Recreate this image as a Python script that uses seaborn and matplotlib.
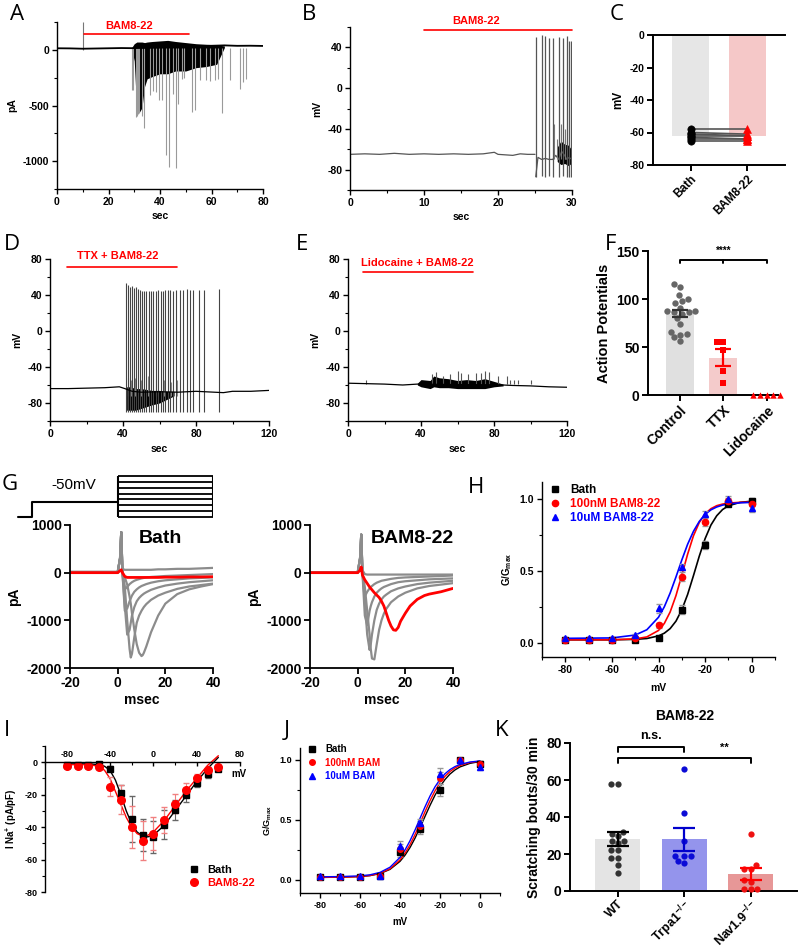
import numpy as np
import pandas as pd
import seaborn as sns
import matplotlib.pyplot as plt
from matplotlib.lines import Line2D
from matplotlib.ticker import MultipleLocator, FormatStrFormatter

# ---------------- data ----------------
# A: voltage clamp trace (pA vs sec)
a_base_t = [0, 5, 10, 15, 20, 25, 29, 65, 70, 75, 80]
a_base_v = [14, 13, 10, 12, 14, 16, 15, 40, 36, 37, 35]
a_env_t = [29, 30, 31, 32, 33, 34, 35, 37, 40, 43, 46, 50, 54, 58, 62, 65]
a_env_lo = [10, -100, -560, -560, -520, -330, -260, -240, -215, -215, -190, -190, -160, -150, -130, 20]
a_env_hi = [20, 55, 70, 70, 70, 65, 70, 75, 80, 85, 75, 65, 55, 50, 45, 35]
a_spk_t = [29.0, 29.5, 30.5, 31.0, 31.5, 32.0, 33.0, 33.9, 36.2, 37.3, 38.6, 39.6, 40.6, 42.2, 43.5, 45.0,
           46.3, 47.1, 48.7, 49.2, 52.4, 53.7, 55.4, 58.0, 59.3, 61.2, 62.5, 64.2, 67.0, 71.2, 72.2, 73.5]
a_spk_v = [-360, -360, -600, -590, -580, -570, -590, -705, -405, -370, -380, -455, -455, -943, -1048, -400,
           -1063, -485, -260, -250, -557, -540, -275, -275, -280, -275, -260, -570, -270, -350, -290, -260]
a_mark_t = 10
a_drug_t = [10.4, 51.3]

# B: current clamp trace (mV vs sec)
b_base_t = [0, 2, 4, 6, 8, 10, 12, 14, 16, 18, 19.5, 20, 22, 23, 24, 25]
b_base_v = [-65, -64.5, -65, -64, -65, -64.5, -65, -64.5, -65, -64.5, -63, -65, -66, -64.5, -65, -65]
b_spk_t = [25.1, 25.9, 26.4, 26.9, 27.4, 28.2, 28.8, 29.3, 29.6, 29.9]
b_spk_peak = [50, 52, 51, 49, 49, 50, 49, 51, 46, 46]
b_spk_trough = [-87, -86, -87, -86, -87, -87, -86, -87, -87, -87]
b_sub_t = [27.6, 28.0, 28.5, 29.0, 29.1]
b_sub_peak = [-35, -50, -35, -40, -50]
b_isi_t = [25.1, 25.4, 25.9, 26.4, 26.9, 27.4, 27.8, 28.2, 28.6, 29.0, 29.3, 29.6, 30]
b_isi_v = [-87, -68, -70, -69, -70, -70, -66, -70, -62, -66, -70, -68, -70]
b_env_t = [28.0, 28.5, 29.0, 29.5, 29.9]
b_env_lo = [-72, -75, -74, -76, -74]
b_env_hi = [-58, -52, -55, -56, -60]
b_drug_t = [10, 30]

# C: resting membrane potential
c_bath = [-58, -60, -61, -62, -63, -64, -65]
c_bam = [-58, -61, -62, -62, -64, -64, -65]

# D: TTX + BAM8-22
d_base_t = [0, 10, 20, 30, 38, 41, 45, 50, 60, 70, 80, 90, 95, 100, 110, 120]
d_base_v = [-64, -64, -63.5, -63, -62, -64, -67, -68, -67.5, -68, -67, -68, -68.5, -67, -67, -66]
d_spk_t = [41.9, 42.9, 43.8, 45.1, 46.2, 47.2, 48.3, 49.2, 50.5, 51.6, 52.8, 54.1, 55.2, 56.5, 57.9, 59.2,
           60.7, 61.9, 63.2, 64.7, 65.9, 67.4, 68.9, 71.1, 72.9, 75.1, 76.6, 78.4, 81.5, 84.3, 92.5]
d_spk_peak = [53, 51, 49, 50, 48, 49, 47, 46, 45, 45, 44, 45, 44, 44, 45, 46,
              45, 45, 46, 46, 46, 45, 46, 46, 46, 47, 46, 46, 46, 46, 47]
d_trough = -90
d_sub_t = [43, 44.5, 46.8, 49.8, 53.5, 58, 62.5, 66.5, 69.5]
d_sub_v = [-52, -55, -52, -55, -50, -55, -55, -57, -55]
d_env_t = [42, 44, 47, 50, 53, 56, 60, 64, 68]
d_env_lo = [-88, -88, -88, -86, -84, -82, -80, -76, -72]
d_env_hi = [-62, -62, -64, -64, -65, -66, -66, -67, -67]
d_drug_t = [9.1, 69.7]

# E: Lidocaine + BAM8-22
e_base_t = [0, 10, 20, 30, 38, 85, 90, 100, 110, 120]
e_base_v = [-58, -58.5, -59, -60, -59, -60, -60.5, -61, -62, -62.5]
e_env_t = [38, 40, 45, 47, 50, 55, 60, 65, 70, 75, 80, 85]
e_env_lo = [-60, -62, -64, -62, -63, -63, -64, -64, -64, -64, -62, -61]
e_env_hi = [-58, -54, -55, -50, -52, -53, -55, -54, -55, -53, -56, -59]
e_spk_t = [10, 46, 48, 52, 56, 60, 62, 66, 70, 73, 75, 77, 82, 87, 89, 91, 93, 100]
e_spk_v = [-55, -48, -46, -50, -48, -44, -47, -48, -47, -47, -44, -46, -50, -50, -54, -55, -54, -55]
e_drug_t = [8, 68.7]

# F: action potential counts
f_order = ['Control', 'TTX', 'Lidocaine']
f_control = [116, 113, 104, 100, 98, 96, 91, 88, 87, 86, 86, 84, 80, 74, 66, 64, 63, 60, 56]
f_ttx = [55, 55, 47, 25, 13]
f_lido = [0, 0, 0, 0, 0]

# G: voltage protocol and Na currents
proto_t = [-42, -36, -36, 0]
proto_v = [-100, -100, -50, -50]
proto_steps = [-100, -80, -60, -40, -20, 0, 20, 40]
proto_test = [0, 40]
g_t = [-20, 0, 1, 1.5, 2, 3, 4, 5, 5.5, 6, 7, 8, 9, 10, 10.5, 11, 12, 14, 17, 20, 25, 30, 35, 40]
bath_gray = [
    [20, 20, 300, 850, 80, 60, 60, 60, 60, 60, 60, 60, 60, 60, 60, 60, 60, 60, 70, 70, 80, 80, 90, 100],
    [0, 0, 300, 850, 0, -350, -300, -240, -220, -200, -170, -150, -135, -120, -115, -110, -100, -90, -80, -70, -60, -50, -40, -30],
    [0, 0, 300, 850, 0, -800, -750, -600, -540, -480, -400, -350, -310, -280, -270, -260, -240, -210, -180, -160, -140, -120, -110, -100],
    [0, 0, 300, 850, 0, -700, -1300, -1200, -1050, -900, -720, -600, -530, -480, -460, -440, -410, -360, -310, -270, -230, -200, -180, -160],
    [0, 0, 300, 850, 0, -300, -1000, -1600, -1780, -1700, -1350, -1050, -900, -800, -760, -720, -660, -570, -480, -420, -340, -290, -260, -230],
    [0, 0, 300, 850, 0, -100, -250, -500, -650, -850, -1200, -1500, -1680, -1750, -1730, -1680, -1550, -1250, -900, -650, -450, -350, -290, -240],
]
bath_red = [0, 0, 40, 60, 0, -80, -100, -100, -100, -100, -100, -100, -100, -100, -100, -100, -100, -100, -100, -95, -95, -90, -90, -85]
bam_gray = [
    [0, 0, 300, 800, 50, -30, -40, -40, -40, -40, -40, -40, -40, -40, -40, -40, -40, -40, -40, -40, -40, -40, -40, -40],
    [0, 0, 300, 800, 0, -500, -400, -330, -300, -280, -240, -210, -190, -170, -165, -160, -150, -130, -110, -100, -90, -80, -70, -60],
    [0, 0, 300, 800, 0, -900, -1100, -800, -700, -620, -500, -420, -370, -330, -315, -300, -280, -240, -200, -180, -160, -140, -130, -120],
    [0, 0, 300, 800, 0, -600, -1300, -1620, -1500, -1300, -1000, -780, -650, -560, -530, -500, -460, -390, -330, -290, -240, -210, -190, -170],
    [0, 0, 300, 800, 0, -300, -800, -1300, -1600, -1800, -1820, -1500, -1200, -1000, -930, -860, -760, -620, -500, -420, -330, -280, -250, -220],
]
bam_red_t = [-20, 0, 1, 1.5, 2, 3, 5, 7, 9, 10, 11, 12, 13, 14, 15, 16, 17, 18, 20, 22, 25, 28, 30, 35, 40]
bam_red_v = [0, 0, 50, 120, -50, -150, -300, -420, -520, -600, -700, -850, -1000, -1120, -1200, -1210,
             -1150, -1020, -850, -700, -560, -480, -450, -400, -330]

# H: activation curves
act_v = [-80, -70, -60, -50, -40, -30, -20, -10, 0]
h_bath = [0.02, 0.02, 0.02, 0.02, 0.03, 0.23, 0.68, 0.97, 0.99]
h_100 = [0.02, 0.02, 0.02, 0.03, 0.12, 0.46, 0.84, 0.99, 0.97]
h_10 = [0.03, 0.03, 0.03, 0.05, 0.24, 0.53, 0.90, 1.00, 0.94]
h_bath_err = [0.01, 0.01, 0.01, 0.01, 0.01, 0.03, 0.03, 0.02, 0.02]
h_100_err = [0.01, 0.01, 0.01, 0.01, 0.02, 0.03, 0.03, 0.02, 0.02]
h_10_err = [0.01, 0.01, 0.01, 0.01, 0.03, 0.02, 0.02, 0.02, 0.03]
h_fit_x = [-80, -60, -50, -45, -40, -37.5, -35, -32.5, -30, -27.5, -25, -22.5, -20, -17.5, -15, -12.5, -10, -5, 0]
h_fit_bath = [0.02, 0.02, 0.023, 0.029, 0.047, 0.066, 0.098, 0.15, 0.229, 0.336, 0.467, 0.603, 0.725, 0.82, 0.885, 0.928, 0.954, 0.978, 0.986]
h_fit_100 = [0.02, 0.02, 0.026, 0.04, 0.085, 0.134, 0.214, 0.328, 0.47, 0.617, 0.745, 0.838, 0.898, 0.934, 0.955, 0.966, 0.973, 0.978, 0.98]
h_fit_10 = [0.03, 0.033, 0.053, 0.09, 0.177, 0.25, 0.346, 0.458, 0.576, 0.686, 0.776, 0.845, 0.894, 0.926, 0.946, 0.959, 0.967, 0.975, 0.978]

# I: I-V relation
iv_v = [-80, -70, -60, -50, -40, -30, -20, -10, 0, 10, 20, 30, 40, 50, 60]
iv_bath = [-2, -2, -2, -1, -4, -19, -35, -45, -46, -38.5, -29.5, -20.5, -12.5, -7.5, -4]
iv_bam = [-2.5, -2.5, -2.5, -3, -15, -23, -40, -48.5, -44, -35.5, -25.5, -17, -10, -5, -3]
iv_bath_err = [1, 1, 1, 1, 1.5, 5, 14, 10, 10, 9, 6, 4, 3, 2, 1.5]
iv_bam_err = [1, 1, 1, 1, 6, 9, 13, 12, 10, 8, 6, 4, 3, 2, 1]
iv_fit_x = [-80, -60, -50, -45, -40, -35, -30, -25, -20, -15, -10, -5, 0, 10, 20, 30, 40, 50, 60]
iv_fit_bath = [-1, -1, -1.5, -2.5, -5, -11, -20, -30, -38, -43, -45.5, -46, -45, -39, -30, -21, -12, -4, 3]
iv_fit_bam = [-1.5, -1.5, -2.5, -5, -10, -18, -26, -34, -40, -44, -45.5, -45, -43, -36, -27, -18, -10, -2, 4]

# J: activation curves (second set)
j_bath = [0.02, 0.02, 0.02, 0.03, 0.23, 0.42, 0.75, 1.00, 0.97]
j_100 = [0.02, 0.02, 0.02, 0.03, 0.26, 0.45, 0.85, 1.00, 0.97]
j_10 = [0.03, 0.03, 0.03, 0.03, 0.28, 0.47, 0.88, 1.00, 0.94]
j_err = [0.01, 0.01, 0.01, 0.01, 0.04, 0.04, 0.05, 0.02, 0.02]
j_fit_x = [-80, -70, -60, -55, -50, -45, -40, -37.5, -35, -32.5, -30, -27.5, -25, -22.5, -20, -17.5, -15, -12.5, -10, -5, 0]
j_fit_bath = [0.02, 0.022, 0.027, 0.035, 0.052, 0.087, 0.154, 0.205, 0.269, 0.347, 0.435, 0.529, 0.621, 0.706, 0.778, 0.837, 0.883, 0.917, 0.942, 0.972, 0.987]
j_fit_100 = [0.02, 0.022, 0.027, 0.036, 0.054, 0.092, 0.166, 0.222, 0.293, 0.377, 0.471, 0.568, 0.66, 0.742, 0.81, 0.864, 0.904, 0.933, 0.954, 0.979, 0.99]
j_fit_10 = [0.025, 0.027, 0.033, 0.042, 0.062, 0.105, 0.187, 0.249, 0.326, 0.415, 0.513, 0.609, 0.699, 0.776, 0.838, 0.885, 0.92, 0.945, 0.963, 0.983, 0.992]

# K: scratching bouts
k_order = ['WT', 'Trpa1', 'Nav1.9']
k_labels = ['WT', 'Trpa1$^{-/-}$', 'Nav1.9$^{-/-}$']
k_wt = [58, 58, 32, 31, 30, 27, 27, 26, 22, 22, 18, 18, 14, 10]
k_trpa1 = [66, 42, 27, 19, 19, 19, 16, 15]
k_nav = [31, 14, 12, 12, 6, 5, 1, 1, 1]

# ---------------- style ----------------
sns.set_theme(style='ticks')
plt.rcParams['font.family'] = ['Liberation Sans', 'DejaVu Sans']
plt.rcParams['font.weight'] = 'bold'
plt.rcParams['axes.labelweight'] = 'bold'
plt.rcParams['axes.unicode_minus'] = False
plt.rcParams['mathtext.fontset'] = 'custom'
plt.rcParams['mathtext.rm'] = 'Liberation Sans:bold'
plt.rcParams['mathtext.bf'] = 'Liberation Sans:bold'
plt.rcParams['mathtext.default'] = 'bf'
for k in ['axes.edgecolor', 'xtick.color', 'ytick.color', 'axes.labelcolor', 'text.color']:
    plt.rcParams[k] = 'black'

W, H = 800, 951
fig = plt.figure(figsize=(W / 100, H / 100), dpi=100)


def panel(l, t, r, b):
    return fig.add_axes([l / W, 1 - b / H, (r - l) / W, (b - t) / H])


def origin_style(ax, size, xminor=None, yminor=None):
    sns.despine(ax=ax)
    ax.tick_params(which='major', direction='out', length=3.5, width=1, labelsize=size, pad=2)
    ax.tick_params(which='minor', direction='out', length=2, width=0.8)
    if xminor:
        ax.xaxis.set_minor_locator(MultipleLocator(xminor))
    if yminor:
        ax.yaxis.set_minor_locator(MultipleLocator(yminor))
    for s in ax.spines.values():
        s.set_linewidth(1)


def prism_style(ax, size, labels, xsize=None):
    sns.despine(ax=ax)
    ax.tick_params(direction='out', length=4, width=1.4, labelsize=size, pad=2)
    for s in ax.spines.values():
        s.set_linewidth(1.4)
    ax.set_xticks(range(len(labels)))
    ax.set_xticklabels(labels, rotation=45, ha='right', rotation_mode='anchor',
                       fontsize=xsize or size)
    ax.set_xlabel('')


def letter(x, y, s):
    fig.text(x / W, 1 - y / H, s, fontsize=16, fontweight='normal', family='Open Sans',
             ha='center', va='center')


# ---------------- A ----------------
ax = panel(57, 22, 263, 189)
ax.vlines(a_mark_t, 0, 250, color='#777777', lw=0.8)
ax.vlines(a_spk_t, 20, a_spk_v, color='#9a9a9a', lw=0.8)
ax.fill_between(a_env_t, a_env_lo, a_env_hi, color='black', lw=0)
ax.plot(a_base_t, a_base_v, color='black', lw=1.3)
ax.plot(a_drug_t, [143, 143], color='red', lw=1.2)
ax.text(28, 217, 'BAM8-22', color='red', fontsize=8, ha='center', va='center')
ax.set(xlim=(0, 80), ylim=(-1250, 250), xticks=[0, 20, 40, 60, 80], yticks=[-1000, -500, 0])
origin_style(ax, 7.5, 10, 250)
ax.set_xlabel('sec', fontsize=7.5, labelpad=3)
ax.set_ylabel('pA', fontsize=7.5)
letter(17, 15, 'A')

# ---------------- B ----------------
ax = panel(350, 27, 572, 190)
ax.plot(b_base_t, b_base_v, color='#555555', lw=0.9)
ax.plot(b_isi_t, b_isi_v, color='#555555', lw=0.9)
ax.fill_between(b_env_t, b_env_lo, b_env_hi, color='black', lw=0)
ax.vlines(b_spk_t, b_spk_trough, b_spk_peak, color='#555555', lw=0.9)
ax.vlines(b_sub_t, -70, b_sub_peak, color='#777777', lw=0.8)
ax.plot(b_drug_t, [57, 57], color='red', lw=1.2, clip_on=False)
ax.text(17, 66, 'BAM8-22', color='red', fontsize=8, ha='center', va='center')
ax.set(xlim=(0, 30), ylim=(-100, 60), xticks=[0, 10, 20, 30], yticks=[-80, -40, 0, 40])
origin_style(ax, 7.5, 5, 20)
ax.set_xlabel('sec', fontsize=7.5, labelpad=3)
ax.set_ylabel('mV', fontsize=7.5)
letter(309, 15, 'B')

# ---------------- C ----------------
ax = panel(653, 35, 785, 165)
dfc = pd.DataFrame({'cond': ['Bath'] * len(c_bath) + ['BAM8-22'] * len(c_bam), 'mv': c_bath + c_bam})
sns.barplot(data=dfc, x='cond', y='mv', hue='cond', palette=['#e6e6e6', '#fdc0c0'],
            errorbar=None, width=0.66, linewidth=0, legend=False, ax=ax)
for b, m in zip(c_bath, c_bam):
    ax.plot([0, 1], [b, m], color='#555555', lw=1.2, zorder=2)
sns.scatterplot(x=[0] * len(c_bath), y=c_bath, marker='o', s=28, color='black', edgecolor='black', ax=ax, zorder=3)
sns.scatterplot(x=[1] * len(c_bam), y=c_bam, marker='^', s=32, color='red', edgecolor='red', ax=ax, zorder=3)
ax.set(ylim=(-80, 0), xlim=(-0.67, 1.67), yticks=[0, -20, -40, -60, -80])
prism_style(ax, 7.5, ['Bath', 'BAM8-22'], xsize=8.5)
ax.spines['top'].set_visible(True)
ax.spines['top'].set_linewidth(1.4)
ax.set_ylabel('mV', fontsize=8.5)
letter(617, 15, 'C')

# ---------------- D / E ----------------
ax = panel(50, 259, 269, 421)
ax.vlines(d_sub_t, -72, d_sub_v, color='#888888', lw=0.8)
ax.vlines(d_spk_t, d_trough, d_spk_peak, color='#444444', lw=0.8)
ax.fill_between(d_env_t, d_env_lo, d_env_hi, color='black', lw=0)
ax.plot(d_base_t, d_base_v, color='black', lw=0.9)
ax.plot(d_drug_t, [70.6, 70.6], color='red', lw=1.2)
ax.text(37, 83, 'TTX + BAM8-22', color='red', fontsize=8, ha='center', va='center')
ax.set(xlim=(0, 120), ylim=(-100, 80), xticks=[0, 40, 80, 120], yticks=[-80, -40, 0, 40, 80])
origin_style(ax, 7.5, 20, 20)
ax.set_xlabel('sec', fontsize=7.5, labelpad=4)
ax.set_ylabel('mV', fontsize=7.5)
letter(12, 244, 'D')

ax = panel(348, 259, 567, 421)
ax.vlines(e_spk_t, -59, e_spk_v, color='#555555', lw=0.8)
ax.fill_between(e_env_t, e_env_lo, e_env_hi, color='black', lw=0)
ax.plot(e_base_t, e_base_v, color='black', lw=0.9)
ax.plot(e_drug_t, [66, 66], color='red', lw=1.2)
ax.text(38, 76, 'Lidocaine + BAM8-22', color='red', fontsize=8, ha='center', va='center')
ax.set(xlim=(0, 120), ylim=(-100, 80), xticks=[0, 40, 80, 120], yticks=[-80, -40, 0, 40, 80])
origin_style(ax, 7.5, 20, 20)
ax.set_xlabel('sec', fontsize=7.5, labelpad=4)
ax.set_ylabel('mV', fontsize=7.5)
letter(302, 244, 'E')

# ---------------- F ----------------
ax = panel(648, 251, 778, 395)
dff = pd.DataFrame({'group': ['Control'] * len(f_control) + ['TTX'] * len(f_ttx) + ['Lidocaine'] * len(f_lido),
                    'ap': f_control + f_ttx + f_lido})
sns.barplot(data=dff, x='group', y='ap', hue='group', order=f_order, hue_order=f_order,
            palette=['#e0e0e0', '#fbc4c4', '#fbc4c4'], errorbar=None, width=0.65, linewidth=0,
            legend=False, ax=ax)
for grp, col, mk in zip(f_order, ['#666666', 'red', 'red'], ['o', 's', '^']):
    sns.swarmplot(data=dff[dff.group == grp], x='group', y='ap', order=f_order, color=col,
                  marker=mk, size=4.6, ax=ax)
stats = dff.groupby('group')['ap'].agg(['mean', 'sem'])
for i, (grp, col) in enumerate(zip(f_order[:2], ['#333333', 'red'])):
    ax.errorbar(i, stats.loc[grp, 'mean'], yerr=stats.loc[grp, 'sem'], color=col, capsize=6,
                elinewidth=1.6, capthick=1.6, zorder=5)
for c in ax.collections:
    c.set_clip_on(False)
ax.plot([0, 0, 2, 2], [137, 141, 141, 137], color='black', lw=1.4, clip_on=False)
ax.plot([1, 1], [137, 141], color='black', lw=1.4, clip_on=False)
ax.text(1, 150, '****', fontsize=7, ha='center', va='center')
ax.set(ylim=(0, 150), xlim=(-0.73, 2.26), yticks=[0, 50, 100, 150])
prism_style(ax, 10, f_order)
ax.set_ylabel('Action Potentials', fontsize=10.5)
letter(611, 244, 'F')

# ---------------- G ----------------
ax = panel(10, 470, 213, 520)
ax.plot(proto_t, proto_v, color='black', lw=1.5)
ax.hlines(proto_steps, proto_test[0], proto_test[1], color='black', lw=1.3)
ax.vlines(proto_test, proto_steps[0], proto_steps[-1], color='black', lw=1.5)
ax.text(-18.5, 9, '-50mV', fontsize=11, fontweight='normal', ha='center', va='center')
ax.set(xlim=(-45.2, 40), ylim=(-110, 60))
ax.axis('off')
letter(10, 484, 'G')

for l, r, gray, rt, rv, title, tx in [(70, 213, bath_gray, g_t, bath_red, 'Bath', 18),
                                       (310, 453, bam_gray, bam_red_t, bam_red_v, 'BAM8-22', 23)]:
    ax = panel(l, 525, r, 668)
    for tr in gray:
        ax.plot(g_t, tr, color='#8c8c8c', lw=1.6)
    ax.plot(rt, rv, color='red', lw=2)
    ax.set(xlim=(-20, 40), ylim=(-2000, 1000), xticks=[-20, 0, 20, 40], yticks=[-2000, -1000, 0, 1000])
    sns.despine(ax=ax)
    ax.tick_params(direction='out', length=4, width=1.3, labelsize=10, pad=2)
    for s in ax.spines.values():
        s.set_linewidth(1.3)
    ax.set_xlabel('msec', fontsize=10, labelpad=2)
    ax.set_ylabel('pA', fontsize=10)
    ax.text(tx, 720, title, fontsize=14, ha='center', va='center')

# ---------------- H ----------------
ax = panel(542, 482, 775, 657)
series_h = [(h_bath, h_bath_err, h_fit_bath, 'black', 's', 'Bath'),
            (h_100, h_100_err, h_fit_100, 'red', 'o', '100nM BAM8-22'),
            (h_10, h_10_err, h_fit_10, 'blue', '^', '10uM BAM8-22')]
for ys, es, fit, col, mk, lab in series_h:
    sns.lineplot(x=h_fit_x, y=fit, color=col, lw=1.2, ax=ax)
    ax.errorbar(act_v, ys, yerr=es, fmt=mk, ms=4.5, color=col, ecolor='#999999', elinewidth=0.8, capsize=2)
handles = [Line2D([], [], marker=mk, color=col, ls='none', ms=4.5) for _, _, _, col, mk, _ in series_h]
leg = ax.legend(handles, [s[5] for s in series_h], loc='upper left', bbox_to_anchor=(0.03, 0.99),
                frameon=False, fontsize=8.5, handlelength=1, handletextpad=0.8, labelspacing=0.2,
                borderpad=0, borderaxespad=0)
for t, s in zip(leg.get_texts(), series_h):
    t.set_color(s[3])
ax.set(xlim=(-90, 10), ylim=(-0.1, 1.12), xticks=[-80, -60, -40, -20, 0], yticks=[0, 0.5, 1.0])
ax.yaxis.set_major_formatter(FormatStrFormatter('%.1f'))
origin_style(ax, 7.5, 10, 0.25)
ax.set_xlabel('mV', fontsize=7.5, labelpad=6)
ax.set_ylabel('G/G$_{max}$', fontsize=7)
letter(476, 487, 'H')

# ---------------- I ----------------
ax = panel(45, 746, 240, 892)
sns.lineplot(x=iv_fit_x, y=iv_fit_bath, color='black', lw=1, ax=ax)
sns.lineplot(x=iv_fit_x, y=iv_fit_bam, color='red', lw=1, ax=ax)
ax.errorbar(iv_v, iv_bath, yerr=iv_bath_err, fmt='s', ms=5, color='black', ecolor='#666666',
            elinewidth=0.8, capsize=2)
ax.errorbar(iv_v, iv_bam, yerr=iv_bam_err, fmt='o', ms=5.5, color='red', ecolor='#f08080',
            elinewidth=0.8, capsize=2)
ax.set(xlim=(-100, 80), ylim=(-80, 10), xticks=[-80, -40, 0, 40, 80], yticks=[0, -20, -40, -60, -80])
ax.spines['right'].set_visible(False)
ax.spines['bottom'].set_visible(False)
ax.spines['top'].set_position(('data', 0))
ax.xaxis.set_minor_locator(MultipleLocator(20))
ax.yaxis.set_minor_locator(MultipleLocator(10))
ax.tick_params(axis='x', which='both', top=True, bottom=False, labeltop=True, labelbottom=False,
               direction='in')
ax.tick_params(axis='y', which='both', direction='out')
ax.tick_params(which='major', length=3, width=1, labelsize=6.5, pad=2)
ax.tick_params(which='minor', length=2, width=0.8)
for s in ax.spines.values():
    s.set_linewidth(1)
ax.text(79, -7, 'mV', fontsize=7, ha='center', va='center')
ax.set_ylabel('I Na$^{+}$ (pA/pF)', fontsize=7)
leg = ax.legend([Line2D([], [], marker='s', color='black', ls='none', ms=5),
                 Line2D([], [], marker='o', color='red', ls='none', ms=5.5)],
                ['Bath', 'BAM8-22'], loc='upper left', bbox_to_anchor=(0.735, 0.185), frameon=False,
                fontsize=8, handlelength=1, handletextpad=0.7, labelspacing=0.25, borderpad=0,
                borderaxespad=0)
leg.get_texts()[1].set_color('red')
letter(7, 731, 'I')

# ---------------- J ----------------
ax = panel(300, 748, 500, 893)
series_j = [(j_bath, j_fit_bath, 'black', 's', 'Bath'),
            (j_100, j_fit_100, 'red', 'o', '100nM BAM'),
            (j_10, j_fit_10, 'blue', '^', '10uM BAM')]
for ys, fit, col, mk, lab in series_j:
    sns.lineplot(x=j_fit_x, y=fit, color=col, lw=1, ax=ax)
    ax.errorbar(act_v, ys, yerr=j_err, fmt=mk, ms=4, color=col, ecolor='#999999', elinewidth=0.8, capsize=2)
handles = [Line2D([], [], marker=mk, color=col, ls='none', ms=4) for _, _, col, mk, _ in series_j]
leg = ax.legend(handles, [s[4] for s in series_j], loc='upper left', bbox_to_anchor=(0.034, 1.025),
                frameon=False, fontsize=7, handlelength=1, handletextpad=0.9, labelspacing=0.35,
                borderpad=0, borderaxespad=0)
for t, s in zip(leg.get_texts(), series_j):
    t.set_color(s[2])
ax.set(xlim=(-90, 10), ylim=(-0.11, 1.1), xticks=[-80, -60, -40, -20, 0], yticks=[0, 0.5, 1.0])
ax.yaxis.set_major_formatter(FormatStrFormatter('%.1f'))
origin_style(ax, 6.5, 10, 0.25)
ax.set_xlabel('mV', fontsize=7, labelpad=5)
ax.set_ylabel('G/G$_{max}$', fontsize=6.5)
letter(287, 731, 'J')

# ---------------- K ----------------
ax = panel(570, 743, 797, 891)
dfk = pd.DataFrame({'geno': ['WT'] * len(k_wt) + ['Trpa1'] * len(k_trpa1) + ['Nav1.9'] * len(k_nav),
                    'bouts': k_wt + k_trpa1 + k_nav})
sns.barplot(data=dfk, x='geno', y='bouts', hue='geno', order=k_order, hue_order=k_order,
            palette=['#e4e4e4', '#8585fb', '#f48a8a'], errorbar=None, width=0.68, linewidth=0,
            legend=False, ax=ax)
k_pt_cols = ['#333333', '#0b0bd6', '#ee1111']
k_err_cols = ['black', '#0000cc', 'red']
for grp, col in zip(k_order, k_pt_cols):
    sns.swarmplot(data=dfk[dfk.geno == grp], x='geno', y='bouts', order=k_order, color=col,
                  size=4.5, ax=ax)
stats = dfk.groupby('geno')['bouts'].agg(['mean', 'sem'])
for i, (grp, col) in enumerate(zip(k_order, k_err_cols)):
    ax.errorbar(i, stats.loc[grp, 'mean'], yerr=stats.loc[grp, 'sem'], color=col, capsize=8,
                elinewidth=1.6, capthick=1.6, zorder=5)
for c in ax.collections:
    c.set_clip_on(False)
ax.plot([0, 0, 1, 1], [75.3, 78, 78, 75.3], color='black', lw=1.4, clip_on=False)
ax.plot([0, 0, 2, 2], [69, 72, 72, 69], color='black', lw=1.4, clip_on=False)
ax.text(0.5, 84, 'n.s.', fontsize=9, ha='center', va='center')
ax.text(1.6, 77.5, '**', fontsize=8, ha='center', va='center')
ax.text(1.0, 94.6, 'BAM8-22', fontsize=10, ha='center', va='center')
ax.set(ylim=(0, 80), xlim=(-0.72, 2.7), yticks=[0, 20, 40, 60, 80])
prism_style(ax, 10, k_labels, xsize=9)
ax.tick_params(axis='x', pad=1)
ax.set_ylabel('Scratching bouts/30 min', fontsize=10)
letter(502, 731, 'K')

fig.savefig('out.png', dpi=100)
